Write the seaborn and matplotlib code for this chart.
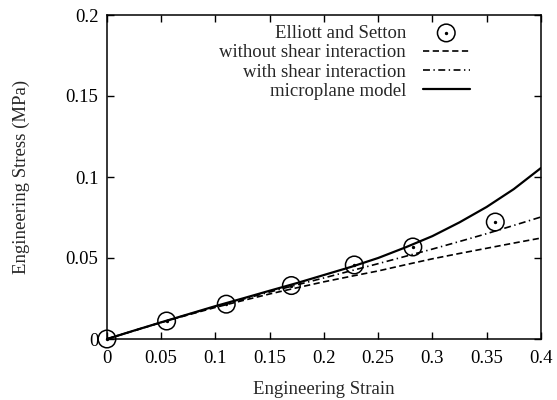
import numpy as np
import pandas as pd
import matplotlib
matplotlib.use('Agg')
import matplotlib.pyplot as plt
from matplotlib.ticker import FuncFormatter
import seaborn as sns

###########
# Data    #
###########
# Experimental points (Elliott and Setton)
exp_strain = [0.0, 0.055, 0.110, 0.170, 0.228, 0.282, 0.358]
exp_stress = [0.0, 0.0111, 0.0215, 0.0330, 0.0457, 0.0568, 0.0722]

# Model curves, read every 0.025 strain
strain = [0.0, 0.025, 0.05, 0.075, 0.10, 0.125, 0.15, 0.175, 0.20,
          0.225, 0.25, 0.275, 0.30, 0.325, 0.35, 0.375, 0.40]
no_shear = [0.0, 0.0051, 0.0102, 0.0149, 0.0195, 0.0237, 0.0278, 0.0316, 0.0353,
            0.0387, 0.0420, 0.0458, 0.0495, 0.0528, 0.0560, 0.0592, 0.0623]
with_shear = [0.0, 0.0052, 0.0103, 0.0152, 0.0200, 0.0245, 0.0290, 0.0334, 0.0377,
              0.0421, 0.0465, 0.0510, 0.0555, 0.0602, 0.0650, 0.0701, 0.0753]
microplane = [0.0, 0.0052, 0.0103, 0.0153, 0.0203, 0.0250, 0.0298, 0.0345, 0.0395,
              0.0445, 0.0500, 0.0565, 0.0635, 0.0720, 0.0815, 0.0925, 0.1055]

x_ticks = [0, 0.05, 0.1, 0.15, 0.2, 0.25, 0.3, 0.35, 0.4]
y_ticks = [0, 0.05, 0.1, 0.15, 0.2]

#############
# Styling   #
#############
sns.set_style('ticks')
plt.rcParams['font.family'] = ['Liberation Serif', 'DejaVu Serif']
plt.rcParams['lines.scale_dashes'] = False
font_size = 13.5

fig = plt.figure(figsize=(5.57, 4.0), dpi=100)
ax = fig.add_axes([0.192, 0.1525, 0.779, 0.81])

exp = pd.DataFrame({'strain': exp_strain, 'stress': exp_stress})
curves = pd.DataFrame({'strain': strain, 'no_shear': no_shear,
                       'with_shear': with_shear, 'microplane': microplane})

# Model lines
sns.lineplot(data=curves, x='strain', y='no_shear', ax=ax, color='black',
             lw=1.2, label='without shear interaction')
sns.lineplot(data=curves, x='strain', y='with_shear', ax=ax, color='black',
             lw=1.2, label='with shear interaction')
sns.lineplot(data=curves, x='strain', y='microplane', ax=ax, color='black',
             lw=1.6, label='microplane model')
lines = ax.get_lines()
lines[0].set_dashes([4.5, 2.5])
lines[1].set_dashes([5, 2.5, 1, 2.5])

# Experimental circles with centre dot
circ = ax.scatter(exp['strain'], exp['stress'], s=160, facecolors='none',
                  edgecolors='black', linewidths=1.1, zorder=5, clip_on=False)
dot = ax.scatter(exp['strain'], exp['stress'], s=2, color='black', zorder=6,
                 clip_on=False)

ax.set_xlim(0, 0.4)
ax.set_ylim(0, 0.2)
ax.set_xticks(x_ticks)
ax.set_yticks(y_ticks)
fmt = FuncFormatter(lambda v, p: f"{v:g}")
ax.xaxis.set_major_formatter(fmt)
ax.yaxis.set_major_formatter(fmt)
ax.tick_params(direction='in', length=5, width=1, top=True, right=True,
               labelsize=font_size, colors='black')
ax.tick_params(axis='x', pad=8)
ax.tick_params(axis='y', pad=6)
for s in ax.spines.values():
    s.set_visible(True)
    s.set_linewidth(1.1)
    s.set_color('black')

ax.set_xlabel('Engineering Strain', fontsize=font_size, labelpad=10)
ax.set_ylabel('Engineering Stress (MPa)', fontsize=font_size, labelpad=26)

handles = [(circ, dot), lines[0], lines[1], lines[2]]
labels = ['Elliott and Setton', 'without shear interaction',
          'with shear interaction', 'microplane model']
leg = ax.legend(handles, labels, loc='upper right',
                bbox_to_anchor=(0.836, 0.97), markerfirst=False,
                frameon=False, fontsize=font_size, handlelength=2.5,
                handletextpad=0.9, labelspacing=0.12, borderpad=0,
                borderaxespad=0)

fig.savefig('out.png', dpi=100)
